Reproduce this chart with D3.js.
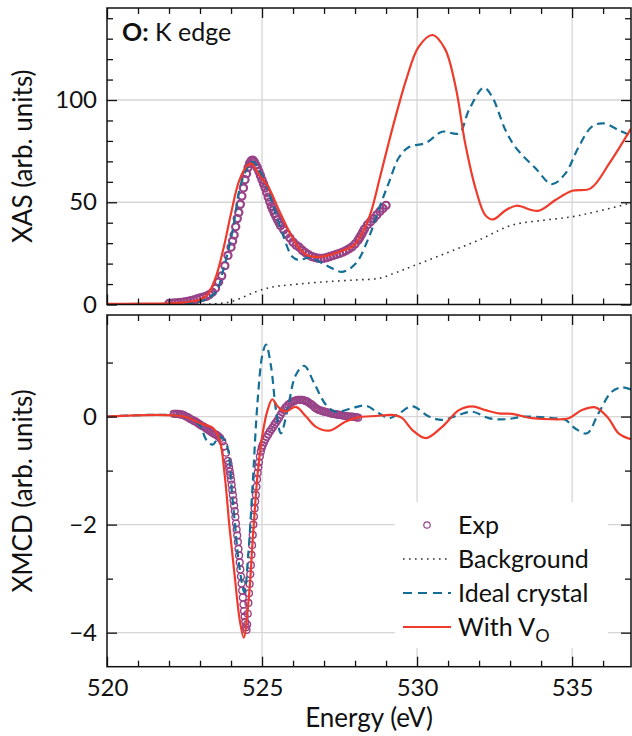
<!DOCTYPE html>
<html>
<head>
<meta charset="utf-8">
<script src="https://cdn.jsdelivr.net/npm/d3@7"></script>
<style>
  body { margin: 0; background: #fff; }
  text { font-family: Lato, "DejaVu Sans", sans-serif; fill: #111; }
</style>
</head>
<body>
<div id="chart"></div>
<script>
// ---- data ----
// XAS (top panel)
const xasExpE = [522.0, 522.1, 522.2, 522.3, 522.4, 522.5, 522.6, 522.7, 522.8, 522.9, 523.0, 523.1, 523.2,
  523.3, 523.4, 523.5, 523.6, 523.7, 523.8, 523.9,
  524.0, 524.05, 524.1, 524.15, 524.2, 524.25, 524.3, 524.35, 524.4, 524.45, 524.5, 524.55, 524.6, 524.65,
  524.7, 524.75, 524.8, 524.85, 524.9, 524.95, 525.0, 525.05, 525.1, 525.15, 525.2, 525.25, 525.3, 525.35,
  525.4, 525.45, 525.5, 525.55, 525.6, 525.7, 525.8, 525.9, 526.0, 526.1, 526.2, 526.3, 526.4, 526.5, 526.6,
  526.7, 526.8, 526.9, 527.0, 527.1, 527.2, 527.3, 527.4, 527.5, 527.6, 527.7, 527.8, 527.9, 528.0, 528.1,
  528.15, 528.2, 528.25, 528.3, 528.4, 528.5, 528.6, 528.7, 528.8, 528.9, 529.0];
const xasExp = [0.5, 0.6, 0.8, 0.9, 1.0, 1.2, 1.5, 1.8, 2.2, 2.7, 3.2, 3.6, 4.0,
  4.8, 6.0, 8, 11, 14, 19, 24,
  28, 31, 34, 38, 42, 45, 49, 53, 57, 61, 64, 67, 69, 70.3,
  70.6, 69.8, 68.3, 66.8, 65, 63, 61, 59, 57, 54.8, 52.5, 50.2, 48, 46.2,
  44.5, 43, 41.5, 40, 38.5, 36.5, 34.5, 32.5, 30.5, 29, 28, 26.5, 25.3, 24.3, 23.5,
  23, 22.6, 22.5, 22.6, 23, 23.5, 24, 24.5, 25, 25.6, 26.3, 27.2, 28.2, 29.6, 31.5,
  32.7, 34, 35.4, 36.8, 39, 40.5, 42, 43.8, 45.5, 47, 48.5];

const xasBgE = [520, 523, 523.5, 524.05, 524.8, 525.34, 525.9, 526.95, 528.02, 528.77, 529.3, 529.85,
  530.92, 531.99, 533.06, 534.14, 535.0, 535.75, 536.9];
const xasBg = [0, 0.1, 0.4, 1.6, 6.2, 8.6, 9.6, 11, 12, 12.8, 15.5, 18.7,
  25, 31.5, 38.8, 41.3, 42.9, 45.3, 49.6];

const xasIdealE = [520, 522, 523, 523.5, 523.75, 524.05, 524.27, 524.49, 524.7, 525.02, 525.34, 525.66,
  525.98, 526.2, 526.53, 527.06, 527.59, 528.02, 528.45, 528.8, 529.1, 529.42, 529.74, 530.28, 530.81,
  531.35, 531.67, 532.15, 532.42, 532.85, 533.17, 533.82, 534.35, 534.78, 535.21, 535.64, 536.01, 536.5, 536.9];
const xasIdeal = [0.2, 0.3, 1.5, 6, 17, 36, 56, 65.7, 69.8, 62.5, 49.4, 34.7,
  23.3, 21.7, 23, 19.2, 16, 20, 33, 48, 60, 72, 77, 79, 84.5,
  83.7, 95, 106, 101.6, 85.3, 77, 66.6, 58.9, 64, 77, 87, 88.6, 85.3, 82.5];

const xasVoE = [520, 521, 522, 522.5, 523, 523.25, 523.5, 523.75, 524, 524.25, 524.5, 524.65, 524.9,
  525.2, 525.55, 525.9, 526.2, 526.5, 526.85, 527.2, 527.5, 527.95, 528.2, 528.5, 528.8, 529.1, 529.4,
  529.65, 530.05, 530.5, 530.9, 531.25, 531.55, 531.9, 532.2, 532.45, 532.85, 533.2, 533.9, 534.45,
  535.0, 535.6, 536.2, 536.9];
const xasVo = [0.3, 0.4, 0.6, 1.0, 2.4, 5, 13, 27, 44.5, 60, 67.5, 68.9, 63.5,
  57.5, 46, 35, 27.5, 23.8, 23.3, 24.3, 25.8, 28.8, 34, 44.6, 62, 80, 97,
  110, 126, 131.8, 125, 106, 79, 56, 43.7, 41.6, 46, 48.3, 45.8, 51,
  55.6, 56.8, 69, 86];

// XMCD (bottom panel)
const xmcdExpE = [522.15, 522.2, 522.25, 522.3, 522.35, 522.4, 522.45, 522.5, 522.55, 522.6, 522.65, 522.7,
  522.75, 522.8, 522.85, 522.9, 522.95, 523.0, 523.05, 523.1, 523.15, 523.2,
  523.25, 523.3, 523.35, 523.4, 523.45, 523.5, 523.55, 523.6, 523.65, 523.72, 523.78, 523.84,
  523.90, 523.92, 523.94, 523.96, 523.98, 524.00, 524.02, 524.04, 524.06, 524.08, 524.10, 524.12, 524.14,
  524.16, 524.18, 524.20, 524.22, 524.24, 524.26, 524.28, 524.30, 524.32, 524.34, 524.36, 524.38, 524.40,
  524.42, 524.44, 524.46, 524.48, 524.50, 524.52, 524.54, 524.56, 524.58, 524.60, 524.62, 524.64, 524.66,
  524.68, 524.70, 524.72, 524.74, 524.76, 524.78, 524.80, 524.82, 524.84, 524.86, 524.88, 524.90,
  524.93, 524.96, 524.99, 525.02, 525.06, 525.1, 525.15, 525.2, 525.25, 525.3, 525.35, 525.4, 525.45,
  525.5, 525.55, 525.6, 525.65, 525.7, 525.75, 525.8, 525.85, 525.9, 525.95, 526.0, 526.05, 526.1,
  526.15, 526.2, 526.25, 526.3, 526.35, 526.4, 526.45, 526.5, 526.55, 526.6, 526.65, 526.7, 526.75,
  526.8, 526.85, 526.9, 526.95, 527.0, 527.05, 527.1, 527.15, 527.2, 527.25, 527.3, 527.35, 527.4,
  527.45, 527.5, 527.55, 527.6, 527.65, 527.7, 527.75, 527.8, 527.85, 527.9, 527.95, 528.0, 528.05, 528.1];
const xmcdExp = [0.05, 0.05, 0.05, 0.05, 0.04, 0.04, 0.03, 0.02, 0.0, -0.01, -0.03, -0.05,
  -0.06, -0.08, -0.09, -0.11, -0.13, -0.15, -0.17, -0.18, -0.2, -0.22,
  -0.24, -0.26, -0.28, -0.3, -0.32, -0.33, -0.35, -0.37, -0.4, -0.46, -0.55, -0.67,
  -0.82, -0.88, -0.95, -1.02, -1.09, -1.17, -1.26, -1.36, -1.45, -1.55, -1.65, -1.75, -1.86,
  -1.98, -2.09, -2.2, -2.32, -2.45, -2.57, -2.7, -2.83, -2.96, -3.09, -3.22, -3.35, -3.48,
  -3.6, -3.7, -3.8, -3.9, -3.95, -3.85, -3.65, -3.45, -3.27, -3.1, -2.92, -2.75, -2.56,
  -2.38, -2.19, -2.0, -1.85, -1.7, -1.57, -1.45, -1.3, -1.16, -1.04, -0.94, -0.85,
  -0.74, -0.65, -0.58, -0.53, -0.48, -0.43, -0.38, -0.33, -0.28, -0.24, -0.2, -0.15, -0.11,
  -0.07, -0.02, 0.03, 0.08, 0.12, 0.16, 0.19, 0.22, 0.24, 0.26, 0.28, 0.29, 0.3,
  0.31, 0.31, 0.31, 0.31, 0.3, 0.29, 0.28, 0.26, 0.24, 0.22, 0.2, 0.17, 0.15,
  0.13, 0.12, 0.11, 0.1, 0.09, 0.085, 0.08, 0.07, 0.06, 0.055, 0.05, 0.045, 0.04,
  0.035, 0.03, 0.025, 0.02, 0.015, 0.01, 0.005, 0.0, 0.0, 0.0, -0.005, -0.01, -0.015, -0.02];

const xmcdIdealE = [520, 522.5, 522.98, 523.2, 523.41, 523.63, 523.84, 524.05, 524.27, 524.43, 524.55,
  524.7, 524.86, 525.02, 525.13, 525.29, 525.45, 525.61, 525.82, 526.09, 526.36, 526.68, 527.06,
  527.38, 527.92, 528.35, 528.77, 529.1, 529.42, 529.85, 530.38, 530.81, 531.35, 531.78, 532.31,
  532.85, 533.49, 534.35, 534.78, 535.1, 535.48, 535.85, 536.28, 536.6, 536.9];
const xmcdIdeal = [0, 0, -0.15, -0.43, -0.52, -0.37, -0.49, -1.54, -2.78, -3.25, -2.6,
  -1.23, 0.31, 1.17, 1.33, 0.93, 0.12, -0.31, 0.12, 0.77, 0.94, 0.62, 0.22,
  0.09, 0.16, 0.2, 0.06, -0.03, 0.06, 0.19, 0, -0.06, 0.03, 0.09, -0.03,
  -0.05, 0, -0.03, -0.06, -0.22, -0.31, 0.06, 0.46, 0.54, 0.5];

const xmcdVoE = [520, 522.5, 522.98, 523.41, 523.63, 523.79, 523.95, 524.12, 524.28, 524.41, 524.57,
  524.7, 524.86, 525.02, 525.18, 525.33, 525.5, 525.74, 526.09, 526.42, 526.74, 527.17, 527.7,
  528.13, 528.67, 529.2, 529.5, 529.85, 530.28, 530.81, 531.35, 531.78, 532.2, 532.63, 533.06,
  533.71, 534.35, 534.89, 535.32, 535.75, 536.17, 536.5, 536.9];
const xmcdVo = [0, 0, -0.12, -0.21, -0.43, -1.05, -2.04, -2.96, -3.76, -4.09, -3.39,
  -2.28, -1.05, -0.31, 0.12, 0.32, 0.19, 0.09, 0.18, 0, -0.19, -0.26, -0.09,
  -0.01, 0.01, 0.03, -0.02, -0.25, -0.4, -0.19, 0.12, 0.19, 0.12, 0.06, 0.05,
  -0.03, -0.05, -0.03, 0.12, 0.17, -0.03, -0.31, -0.42];

const xTicksMajor = [520, 525, 530, 535];
const xasTicksMajor = [0, 50, 100];
const xmcdTicksMajor = [-4, -2, 0];

// ---- layout ----
const W = 632, H = 736;
const left = 107, right = 631;
const top1 = 8, bot1 = 304.5;
const top2 = 315, bot2 = 666.7;

const cRed = "#ee3b2c", cBlue = "#156f95", cPurple = "#984387", cBg = "#333";

const svg = d3.select("#chart").append("svg")
  .attr("width", W).attr("height", H);

const x = d3.scaleLinear().domain([520, 536.9]).range([left, right]);
const y1 = d3.scaleLinear().domain([0, 145]).range([bot1, top1]);
const y2 = d3.scaleLinear().domain([-4.63, 1.88]).range([bot2, top2]);

const defs = svg.append("defs");
defs.append("clipPath").attr("id", "clip1").append("rect")
  .attr("x", left).attr("y", top1).attr("width", right - left).attr("height", bot1 - top1);
defs.append("clipPath").attr("id", "clip2").append("rect")
  .attr("x", left).attr("y", top2).attr("width", right - left).attr("height", bot2 - top2);

function panel(y, yTop, yBot, yMajor, clipId) {
  const g = svg.append("g");

  // grid
  g.selectAll(".gx").data(xTicksMajor.slice(1)).join("line")
    .attr("x1", d => x(d)).attr("x2", d => x(d))
    .attr("y1", yTop).attr("y2", yBot)
    .attr("stroke", "#d6d6d6").attr("stroke-width", 1.3);
  g.selectAll(".gy").data(yMajor.filter(v => y(v) < yBot - 2)).join("line")
    .attr("x1", left).attr("x2", right)
    .attr("y1", d => y(d)).attr("y2", d => y(d))
    .attr("stroke", "#d6d6d6").attr("stroke-width", 1.3);

  const plot = g.append("g").attr("clip-path", `url(#${clipId})`);
  return {g, plot};
}

function frame(g, y, yTop, yBot, yMajor, yMinor, labels) {
  const xMinor = d3.range(521, 537).filter(v => !xTicksMajor.includes(v));
  const axes = [
    [d3.axisBottom(x), `translate(0,${yBot})`, labels],
    [d3.axisTop(x), `translate(0,${yTop})`, false],
  ];
  axes.forEach(([ax, tr, lab]) => {
    g.append("g").attr("transform", tr)
      .call(ax.tickValues(xMinor).tickSize(-6).tickFormat(""));
    g.append("g").attr("transform", tr)
      .call(ax.tickValues(xTicksMajor).tickSize(-10).tickPadding(12)
        .tickFormat(lab ? d3.format("d") : ""));
  });
  const yMin = yMinor.filter(v => !yMajor.includes(v));
  g.append("g").attr("transform", `translate(${left},0)`)
    .call(d3.axisLeft(y).tickValues(yMin).tickSize(-6).tickFormat(""));
  g.append("g").attr("transform", `translate(${left},0)`)
    .call(d3.axisLeft(y).tickValues(yMajor).tickSize(-10).tickPadding(10)
      .tickFormat(d => d < 0 ? "\u2212" + Math.abs(d) : d));
  g.append("g").attr("transform", `translate(${right},0)`)
    .call(d3.axisRight(y).tickValues(yMin).tickSize(-6).tickFormat(""));
  g.append("g").attr("transform", `translate(${right},0)`)
    .call(d3.axisRight(y).tickValues(yMajor).tickSize(-10).tickFormat(""));

  g.selectAll(".domain").remove();
  g.selectAll(".tick line").attr("stroke", "#111").attr("stroke-width", 1.3);
  g.selectAll(".tick text").style("font-size", "24px").attr("fill", "#111")
    .style("font-family", "Lato, sans-serif");

  g.append("rect").attr("x", left).attr("y", yTop)
    .attr("width", right - left).attr("height", yBot - yTop)
    .attr("fill", "none").attr("stroke", "#111").attr("stroke-width", 1.5);
}

function drawSeries(plot, y, expE, exp, rExp, bgE, bg, idE, id, voE, vo) {
  const line = (E, V) => d3.line()
    .x((d, i) => x(E[i])).y(d => y(d))
    .curve(d3.curveCatmullRom.alpha(0.5))(V);

  plot.selectAll(".exp").data(exp).join("circle")
    .attr("cx", (d, i) => x(expE[i])).attr("cy", d => y(d))
    .attr("r", rExp[0]).attr("fill", "none")
    .attr("stroke", cPurple).attr("stroke-width", rExp[1]);

  if (bg) {
    plot.append("path").attr("d", line(bgE, bg))
      .attr("fill", "none").attr("stroke", cBg).attr("stroke-width", 1.6)
      .attr("stroke-dasharray", "1.6,4.4");
  }
  plot.append("path").attr("d", line(idE, id))
    .attr("fill", "none").attr("stroke", cBlue).attr("stroke-width", 2.2)
    .attr("stroke-dasharray", "8,5");
  plot.append("path").attr("d", line(voE, vo))
    .attr("fill", "none").attr("stroke", cRed).attr("stroke-width", 2.2);
}

// top panel: XAS
const p1 = panel(y1, top1, bot1, xasTicksMajor, "clip1");
drawSeries(p1.plot, y1, xasExpE, xasExp, [3.6, 2.2], xasBgE, xasBg, xasIdealE, xasIdeal, xasVoE, xasVo);
frame(p1.g, y1, top1, bot1, xasTicksMajor, d3.range(0, 141, 10), false);

// bottom panel: XMCD
const p2 = panel(y2, top2, bot2, xmcdTicksMajor, "clip2");
drawSeries(p2.plot, y2, xmcdExpE, xmcdExp, [3.4, 1.4], null, null, xmcdIdealE, xmcdIdeal, xmcdVoE, xmcdVo);

// legend (white box over the grid)
const lg = p2.g.append("g");
lg.append("rect").attr("x", 395).attr("y", 502).attr("width", 213).attr("height", 146)
  .attr("fill", "#fff");
const legendItems = [
  {key: "exp", label: "Exp"},
  {key: "bg", label: "Background"},
  {key: "ideal", label: "Ideal crystal"},
  {key: "vo", label: "With V", sub: "O"},
];
legendItems.forEach((it, i) => {
  const ly = 525 + i * 34;
  if (it.key === "exp") {
    lg.append("circle").attr("cx", 427).attr("cy", ly).attr("r", 3.2)
      .attr("fill", "none").attr("stroke", cPurple).attr("stroke-width", 1.2);
  } else {
    const st = {bg: [cBg, 1.6, "1.6,4.4"], ideal: [cBlue, 2.2, "9,6"], vo: [cRed, 2.2, null]}[it.key];
    lg.append("line").attr("x1", 403).attr("x2", 451).attr("y1", ly).attr("y2", ly)
      .attr("stroke", st[0]).attr("stroke-width", st[1])
      .attr("stroke-dasharray", st[2]);
  }
  const t = lg.append("text").attr("x", 458).attr("y", ly + 9).style("font-size", "25px")
    .text(it.label);
  if (it.sub) t.append("tspan").attr("dy", 6).style("font-size", "18px").text(it.sub);
});

frame(p2.g, y2, top2, bot2, xmcdTicksMajor, d3.range(-4, 2, 1), true);

// titles
svg.append("text").attr("x", 122).attr("y", 41).style("font-size", "25px")
  .call(t => {
    t.append("tspan").style("font-weight", "bold").text("O:");
    t.append("tspan").text(" K edge");
  });

svg.append("text").attr("x", (left + right) / 2).attr("y", 727)
  .attr("text-anchor", "middle").style("font-size", "26px").text("Energy (eV)");
svg.append("text").attr("transform", `translate(32,${(top1 + bot1) / 2}) rotate(-90)`)
  .attr("text-anchor", "middle").style("font-size", "26px").text("XAS (arb. units)");
svg.append("text").attr("transform", `translate(32,${(top2 + bot2) / 2}) rotate(-90)`)
  .attr("text-anchor", "middle").style("font-size", "26px").text("XMCD (arb. units)");
</script>
</body>
</html>
